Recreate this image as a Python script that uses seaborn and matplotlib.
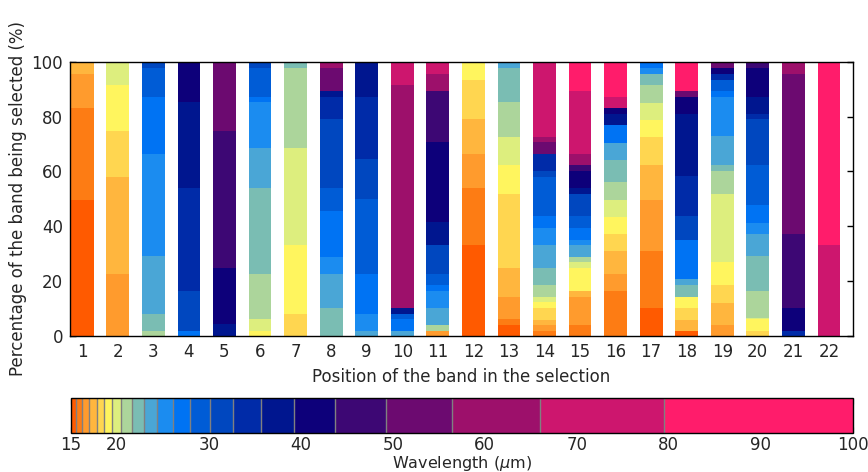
import matplotlib
matplotlib.use("Agg")
import matplotlib.pyplot as plt
import matplotlib.colors as mcolors
import matplotlib.cm as mcm
import pandas as pd
import seaborn as sns

# Wavelength band boundaries (micron) and the colour of each band
band_edges = [15.0, 15.61, 16.26, 17.03, 17.82, 18.62, 19.53, 20.50, 21.66, 23.0,
              24.42, 26.16, 28.0, 30.14, 32.68, 35.68, 39.31, 43.73, 49.27, 56.45,
              66.0, 79.5, 100.0]
band_colors = ["#ff5a00", "#fd7c14", "#ff9b2d", "#ffb63e", "#ffd650", "#fff55e",
               "#ddee7e", "#acd59b", "#7abdb3", "#4aa6d6", "#1b8cf0", "#0073f3",
               "#005cd6", "#0047bf", "#002ba8", "#00168f", "#0d007a", "#3d0774",
               "#6c0a70", "#9d106b", "#cd166e", "#ff1c6b"]
band_ids = list(range(1, 23))

# Selection position on the x axis
positions = list(range(1, 23))

# Bands picked at each position (bottom to top) and their share in percent
bar_bands = [
    [1, 2, 3, 4],
    [3, 4, 5, 6, 7],
    [8, 9, 10, 11, 12, 13, 14],
    [12, 14, 15, 16, 17],
    [16, 17, 18, 19],
    [6, 7, 8, 9, 10, 11, 12, 13, 14],
    [5, 6, 7, 8, 9],
    [9, 10, 11, 12, 13, 14, 15, 16, 19, 20],
    [10, 11, 12, 13, 14, 15, 16],
    [10, 12, 13, 16, 20, 21],
    [3, 8, 10, 11, 12, 13, 14, 16, 17, 18, 20, 21],
    [1, 2, 3, 4, 5, 6],
    [1, 2, 3, 4, 5, 6, 7, 8, 9, 10],
    [2, 3, 4, 5, 6, 7, 8, 9, 10, 11, 12, 13, 14, 15, 19, 20, 21],
    [2, 3, 4, 6, 7, 8, 10, 11, 12, 13, 14, 16, 17, 18, 20, 21, 22],
    [2, 3, 4, 5, 6, 7, 8, 9, 10, 12, 16, 17, 21, 22],
    [1, 2, 3, 4, 5, 6, 7, 8, 9, 11, 12],
    [1, 4, 5, 6, 9, 10, 12, 14, 15, 16, 17, 19, 22],
    [3, 4, 5, 6, 7, 8, 9, 10, 11, 12, 13, 15, 17, 19],
    [5, 6, 7, 8, 9, 10, 11, 12, 13, 14, 15, 16, 17, 18],
    [15, 17, 18, 19, 20],
    [21, 22],
]
bar_shares = [
    [49.6, 33.6, 12.3, 4.5],
    [22.6, 35.4, 16.7, 16.8, 8.5],
    [1.8, 6.2, 21.2, 37.1, 20.8, 10.7, 2.2],
    [1.8, 14.7, 37.5, 31.4, 14.6],
    [4.3, 20.6, 49.8, 25.3],
    [1.8, 4.4, 16.4, 31.4, 14.5, 16.8, 1.8, 10.7, 2.2],
    [8.0, 25.2, 35.3, 29.3, 2.2],
    [10.2, 12.4, 6.2, 16.8, 8.4, 25.1, 8.0, 2.2, 8.5, 2.2],
    [1.8, 6.2, 14.6, 27.3, 14.6, 22.6, 12.9],
    [1.8, 4.4, 1.8, 2.2, 81.3, 8.5],
    [1.8, 2.2, 6.2, 6.2, 2.2, 4.0, 10.6, 8.4, 29.1, 18.6, 6.2, 4.5],
    [33.2, 20.8, 12.3, 12.8, 14.2, 6.7],
    [4.0, 2.2, 8.0, 10.6, 27.0, 10.5, 10.2, 12.8, 12.5, 2.2],
    [1.8, 2.2, 1.8, 4.4, 2.2, 1.8, 4.4, 6.2, 8.4, 6.2, 4.3, 14.3, 2.2, 6.1, 4.4, 1.8, 27.5],
    [4.0, 10.2, 2.2, 8.4, 2.2, 1.8, 4.4, 1.8, 4.4, 4.3, 8.1, 2.2, 6.2, 2.1, 4.0, 23.0, 10.7],
    [16.4, 6.2, 8.4, 6.2, 6.2, 6.2, 6.5, 8.1, 6.2, 6.5, 4.0, 2.2, 4.0, 12.9],
    [10.2, 20.8, 18.6, 12.7, 10.2, 6.2, 6.2, 6.6, 4.0, 2.3, 2.2],
    [1.8, 4.0, 4.4, 4.0, 4.4, 2.2, 14.2, 8.7, 14.6, 22.7, 6.1, 2.2, 10.7],
    [4.0, 8.0, 6.6, 8.4, 24.8, 8.4, 2.1, 10.6, 14.2, 2.2, 4.0, 2.2, 2.3, 2.2],
    [1.8, 4.4, 0.4, 9.8, 12.8, 8.0, 4.0, 6.6, 14.5, 16.8, 1.8, 6.2, 10.7, 2.2],
    [1.8, 8.4, 27.0, 58.3, 4.5],
    [33.2, 66.8],
]

cbar_ticks = [15, 20, 30, 40, 50, 60, 70, 80, 90, 100]

rows = [
    (pos, band, share)
    for pos, bands, shares in zip(positions, bar_bands, bar_shares)
    for band, share in zip(bands, shares)
]
df = pd.DataFrame(rows, columns=["position", "band", "share"])

sns.set_style("ticks", {"xtick.direction": "in", "ytick.direction": "in",
                        "axes.edgecolor": "black"})
plt.rcParams["font.family"] = ["DejaVu Sans"]
plt.rcParams["mathtext.fontset"] = "dejavusans"

fig = plt.figure(figsize=(8.68, 4.72), dpi=100)
ax = fig.add_axes([0.0806, 0.2881, 0.9018, 0.5812])
cax = fig.add_axes([0.0815, 0.0825, 0.9010, 0.0735])

# Stacked bars: seaborn piles later hue levels underneath, so the order is
# reversed to put the shortest wavelength band at the bottom of each bar.
palette = dict(zip(band_ids, band_colors))
sns.histplot(data=df, x="position", weights="share", hue="band",
             hue_order=band_ids[::-1], palette=palette, multiple="stack",
             discrete=True, shrink=0.64, alpha=1, linewidth=0,
             edgecolor="none", legend=False, ax=ax)

ax.set_xlim(0.654, 22.67)
ax.set_ylim(0, 100)
ax.set_xticks(positions)
ax.set_yticks([0, 20, 40, 60, 80, 100])
ax.tick_params(axis="both", which="major", direction="in", top=True, right=True,
               length=4, width=1, labelsize=12, pad=5, color="black")
for sp in ax.spines.values():
    sp.set_visible(True)
    sp.set_color("black")
    sp.set_linewidth(1)
ax.set_xlabel("Position of the band in the selection", fontsize=12, labelpad=5)
ax.set_ylabel("Percentage of the band being selected (%)", fontsize=12, labelpad=3)

# Colour scale of the wavelength bands
cmap = mcolors.ListedColormap(band_colors)
norm = mcolors.BoundaryNorm(band_edges, cmap.N)
sm = mcm.ScalarMappable(norm=norm, cmap=cmap)
cb = fig.colorbar(sm, cax=cax, orientation="horizontal", spacing="proportional",
                  ticks=cbar_ticks, drawedges=True)
cb.dividers.set_color("#808080")
cb.dividers.set_linewidth(1)
cb.outline.set_edgecolor("black")
cb.outline.set_linewidth(1)
cax.set_xticklabels([str(t) for t in cbar_ticks])
cax.tick_params(axis="x", direction="in", top=True, bottom=True, length=4,
                labelsize=12, pad=2, color="black")
cb.set_label("Wavelength ($\\mu$m)", fontsize=11.5, labelpad=0)

fig.savefig("out.png", dpi=100)
